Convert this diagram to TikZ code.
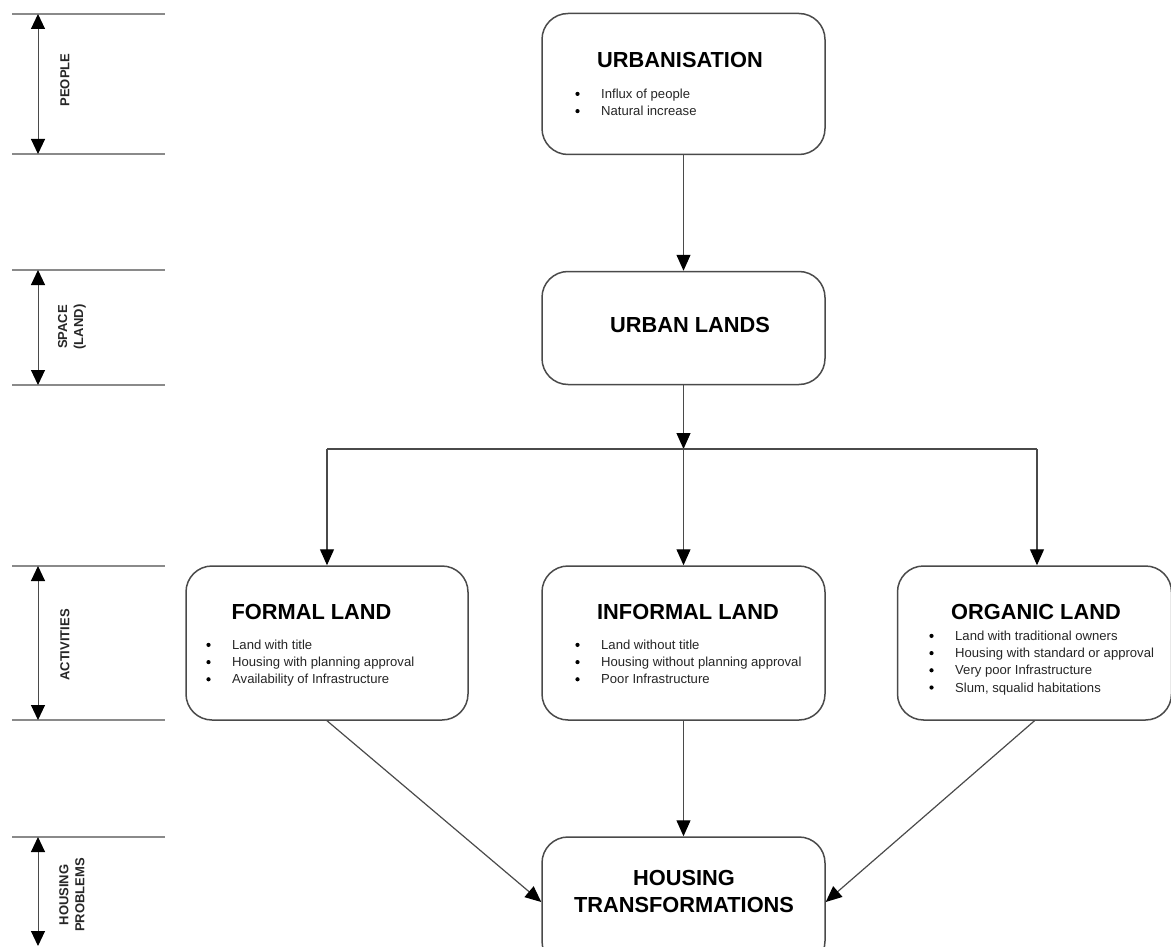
\documentclass[tikz,border=0pt]{standalone}
\usepackage{fontspec}
\setmainfont{Liberation Sans}
\usetikzlibrary{arrows.meta,calc}
\definecolor{boxline}{HTML}{4A4A4A}
\definecolor{bandline}{HTML}{8A8A8A}
\tikzset{
  box/.style={draw=boxline, line width=1.5pt, rounded corners=26pt, fill=white, inner sep=0pt},
  title/.style={font=\fontsize{21.8}{24}\selectfont\bfseries, inner sep=0pt},
  bl/.style={font=\fontsize{13.1}{15}\selectfont, inner sep=0pt, text=black!85},
  arr/.style={draw=boxline, line width=1.2pt, -{Triangle[length=16pt,width=14pt,black]}},
  conn/.style={draw=boxline, line width=1.2pt},
  band/.style={draw=bandline, line width=2.6pt},
  dim/.style={draw=boxline, line width=1pt, {Triangle[length=15pt,width=14pt,black]}-{Triangle[length=15pt,width=14pt,black]}},
  side/.style={font=\fontsize{13}{16}\selectfont\bfseries, rotate=90, align=center, inner sep=0pt, text=black!85}
}
\newcommand\mybullets[3]{%
  \foreach \t [count=\i from 0] in {#3} {
    \fill[black] ({#1+2.5}, {#2+\i*17.2-4.6}) circle (2.1pt);
    \node[bl, anchor=base west] at ({#1+26}, {#2+\i*17.2}) {\t};
  }}
\begin{document}
\begin{tikzpicture}[x=1pt,y=-1pt]
\useasboundingbox (0,0) rectangle (1171,947);
\clip (0,0) rectangle (1171,947);
% boxes
\node[box, minimum width=283pt, minimum height=141pt] (urb) at (683.5,84) {};
\node[box, minimum width=283pt, minimum height=113pt] (lands) at (683.5,328) {};
\node[box, minimum width=282pt, minimum height=154pt] (formal) at (327,643) {};
\node[box, minimum width=283pt, minimum height=154pt] (informal) at (683.5,643) {};
\node[box, minimum width=274pt, minimum height=154pt] (organic) at (1034.5,643) {};
\node[box, minimum width=283pt, minimum height=130pt] (housing) at (683.5,902) {};
% titles
\node[title] (t1) at (680,60) {URBANISATION};
\node[title] (t2) at (690,325) {URBAN LANDS};
\node[title] (t3) at (311.5,612) {FORMAL LAND};
\node[title] (t4) at (688,612) {INFORMAL LAND};
\node[title] (t5) at (1036,612) {ORGANIC LAND};
\node[title, align=center, font=\fontsize{21.8}{27}\selectfont\bfseries] (t6) at (684,891) {HOUSING\\TRANSFORMATIONS};
% bullet lists
\mybullets{575}{98.5}{Influx of people, Natural increase}
\mybullets{206}{649.5}{Land with title, Housing with planning approval, Availability of Infrastructure}
\mybullets{575}{649.5}{Land without title, Housing without planning approval, Poor Infrastructure}
\mybullets{929}{640.5}{Land with traditional owners, Housing with standard or approval, Very poor Infrastructure, {Slum, squalid habitations}}
% connectors
\coordinate (split) at (683.5,449);
\coordinate (splitL) at (327,449);
\coordinate (splitR) at (1037,449);
\draw[arr] (urb.south) -- (lands.north);
\draw[arr] (lands.south) -- (split);
\draw[conn] (splitL) -- (splitR);
\draw[arr] (splitL) -- (splitL |- formal.north);
\draw[arr] (split) -- (informal.north);
\draw[arr] (splitR) -- (splitR |- organic.north);
\draw[arr] (formal.south) -- (housing.west);
\draw[arr] (informal.south) -- (housing.north);
\draw[arr] (organic.south) -- (housing.east);
% side bands
\foreach \y in {14,154,270,385,566,720,837} {
  \draw[band] (12,\y) -- (165,\y);
}
\coordinate (p1) at (38,14);  \coordinate (p2) at (38,154);
\coordinate (s1) at (38,270); \coordinate (s2) at (38,385);
\coordinate (a1) at (38,566); \coordinate (a2) at (38,720);
\coordinate (h1) at (38,837); \coordinate (h2) at (38,946);
\draw[dim] (p1) -- (p2);
\draw[dim] (s1) -- (s2);
\draw[dim] (a1) -- (a2);
\draw[dim] (h1) -- (h2);
\node[side] (lp) at (65,80) {PEOPLE};
\node[side] (ls) at (72,327) {SPACE\\(LAND)};
\node[side] (la) at (65,645) {ACTIVITIES};
\node[side] (lh) at (72,895) {HOUSING\\PROBLEMS};
\end{tikzpicture}
\end{document}
